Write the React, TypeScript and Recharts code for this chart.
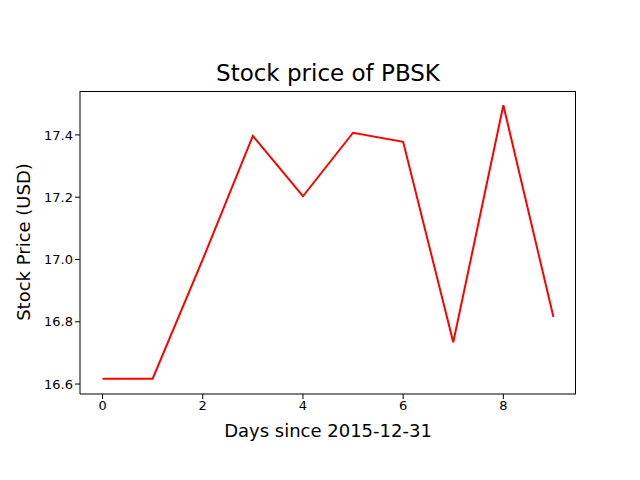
import { LineChart, Line, XAxis, YAxis } from "recharts";

const days = [0, 1, 2, 3, 4, 5, 6, 7, 8, 9];
const prices = [16.617, 16.617, 17.0, 17.397, 17.203, 17.407, 17.378, 16.734, 17.495, 16.815];
const xTicks = [0, 2, 4, 6, 8];
const yTicks = [16.6, 16.8, 17.0, 17.2, 17.4];

const data = days.map((d, i) => ({ day: d, price: prices[i] }));
const font = "DejaVu Sans";
const tick = { fontSize: 13, fill: "#000", fontFamily: font };

export default function App() {
  return (
    <div style={{ position: "fixed", left: 0, top: 0, width: 640, height: 480, background: "#fff" }}>
      <div style={{ position: "absolute", left: 80, width: 496, top: 60, textAlign: "center", fontFamily: font, fontSize: 23 }}>
        Stock price of PBSK
      </div>
      <div style={{ position: "absolute", left: 80, width: 496, top: 420, textAlign: "center", fontFamily: font, fontSize: 18 }}>
        Days since 2015-12-31
      </div>
      <div
        style={{
          position: "absolute", left: 23, top: 242, fontFamily: font, fontSize: 18, whiteSpace: "nowrap",
          transform: "translate(-50%, -50%) rotate(-90deg)",
        }}
      >
        Stock Price (USD)
      </div>
      <div style={{ position: "absolute", left: 80, top: 91, width: 495, height: 302, border: "1px solid #000", borderBottom: "none", borderLeft: "none", pointerEvents: "none" }} />
      <LineChart width={640} height={480} data={data} margin={{ top: 91, right: 64, bottom: 0, left: 0 }}>
        <XAxis
          dataKey="day" type="number" domain={[-0.45, 9.45]} ticks={xTicks} height={86}
          tick={tick} tickSize={5} stroke="#000" allowDataOverflow
        />
        <YAxis
          type="number" domain={[16.568, 17.541]} ticks={yTicks} width={80} tick={tick} tickSize={5}
          tickFormatter={(v: number) => v.toFixed(1)} stroke="#000" allowDataOverflow
        />
        <Line dataKey="price" stroke="#ff0000" strokeWidth={2} dot={false} isAnimationActive={false} />
      </LineChart>
    </div>
  );
}
